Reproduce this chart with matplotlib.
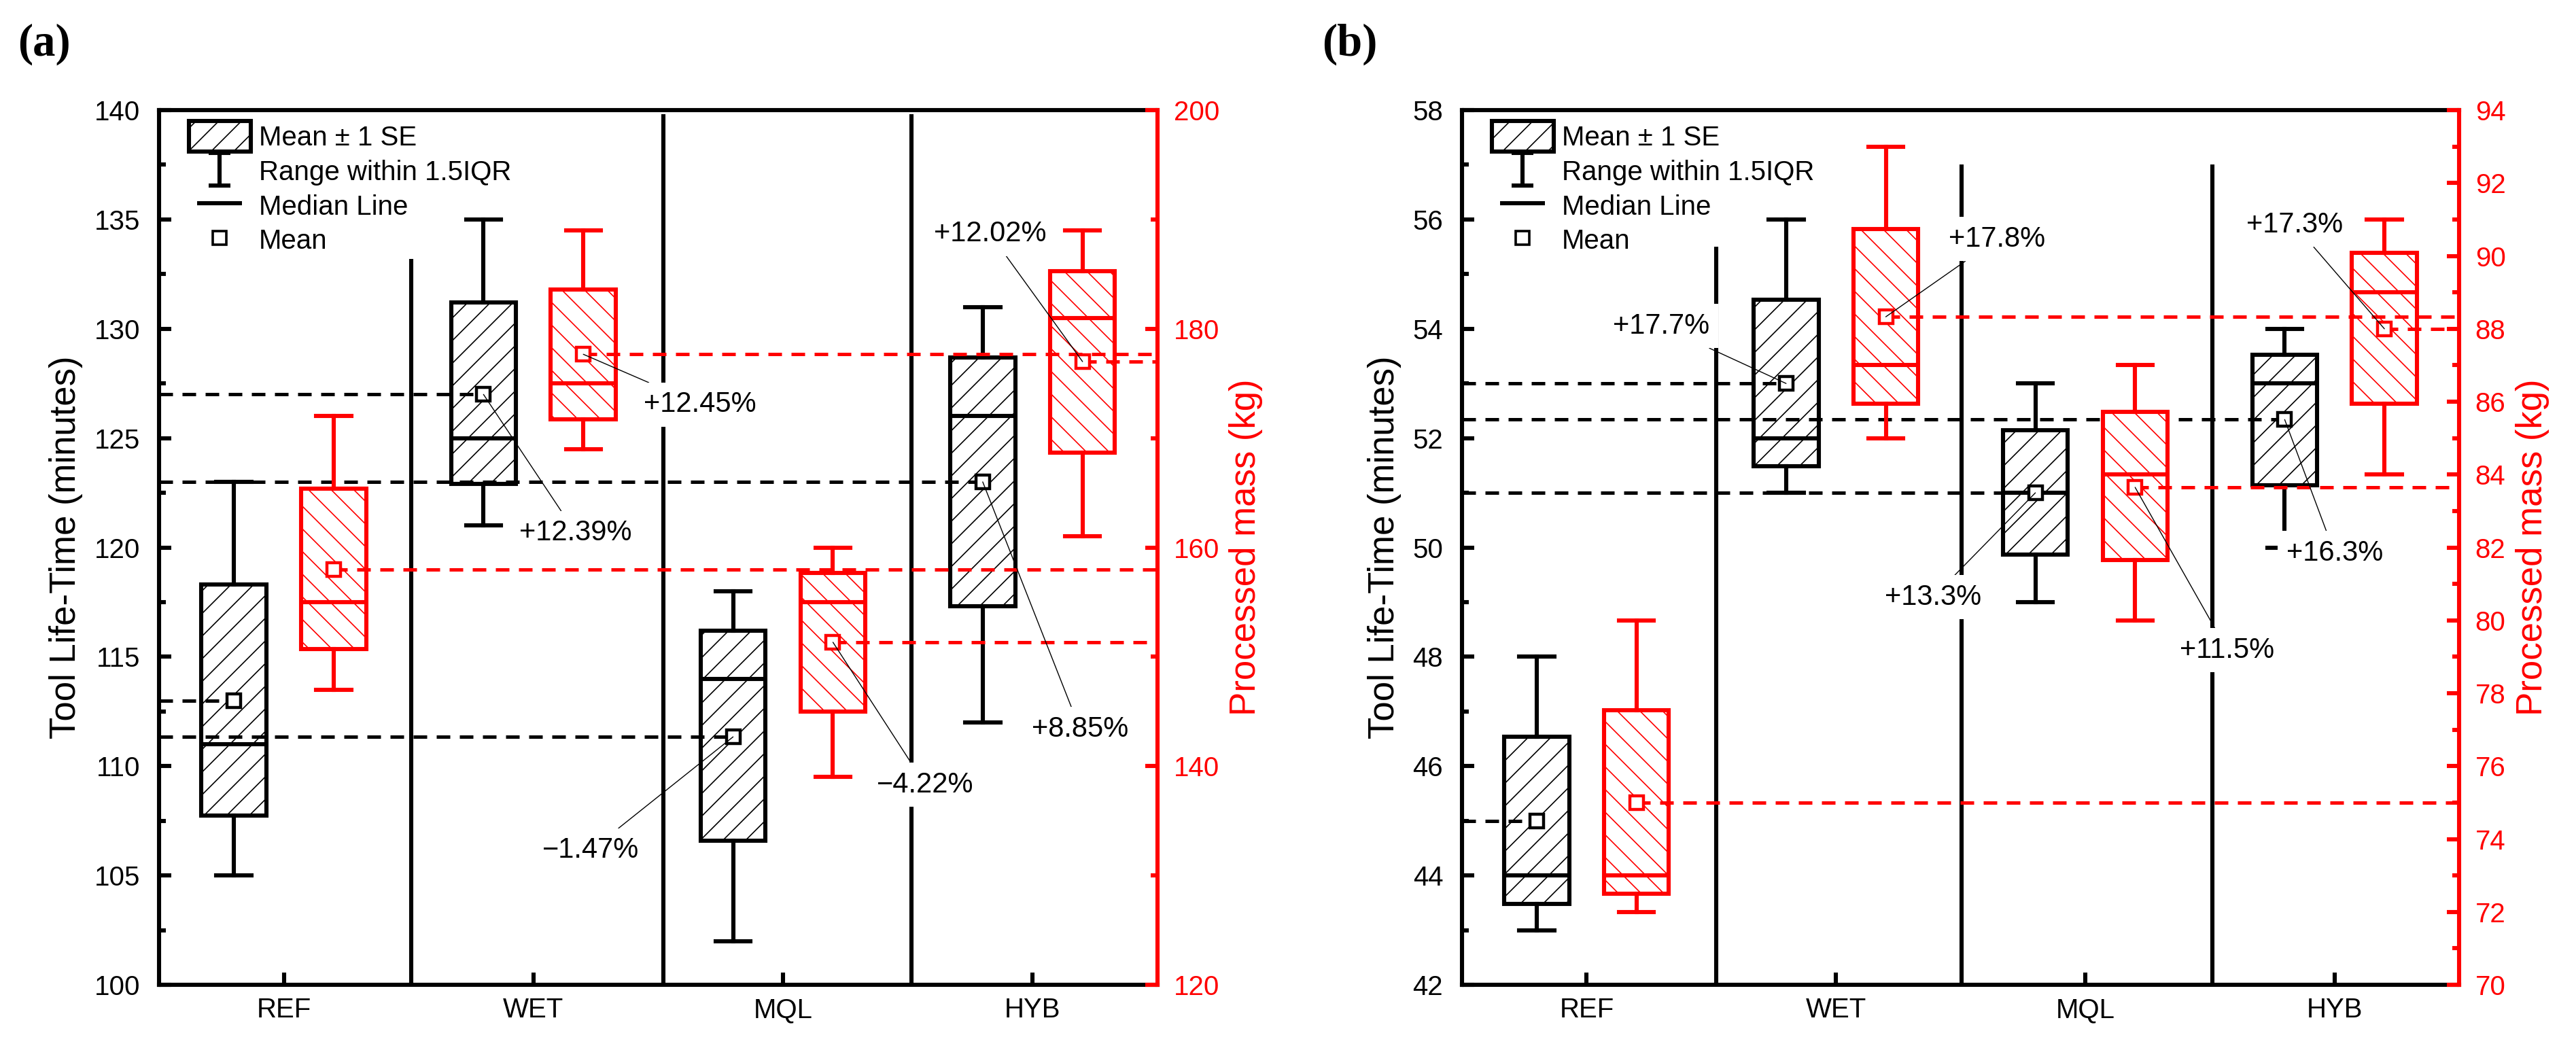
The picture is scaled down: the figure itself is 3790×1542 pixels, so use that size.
import matplotlib
matplotlib.use('Agg')
import matplotlib.pyplot as plt
from matplotlib.path import Path
from matplotlib.lines import Line2D
from matplotlib.patches import Patch, Rectangle
from matplotlib.legend_handler import HandlerPatch
from matplotlib.ticker import MultipleLocator

plt.rcParams['font.family'] = ['Liberation Sans', 'DejaVu Sans']
plt.rcParams['hatch.linewidth'] = 0.6
plt.rcParams['axes.unicode_minus'] = True

categories = ['REF', 'WET', 'MQL', 'HYB']

# ---------------- Panel (a) ----------------
# Tool life-time (minutes), left axis
a_life_whislo = [105.0, 121.0, 102.0, 112.0]
a_life_q1 = [107.75, 122.9, 106.6, 117.3]
a_life_med = [111.0, 125.0, 114.0, 126.0]
a_life_q3 = [118.3, 131.2, 116.2, 128.7]
a_life_whishi = [123.0, 135.0, 118.0, 131.0]
a_life_mean = [113.0, 127.0, 111.34, 123.0]
# Processed mass (kg), right axis
a_mass_whislo = [147.0, 169.0, 139.0, 161.0]
a_mass_q1 = [150.7, 171.7, 145.0, 168.7]
a_mass_med = [155.0, 175.0, 155.0, 181.0]
a_mass_q3 = [165.4, 183.6, 157.7, 185.3]
a_mass_whishi = [172.0, 189.0, 160.0, 189.0]
a_mass_mean = [158.0, 177.67, 151.33, 177.0]
a_life_pct = ['', '+12.39%', '\u22121.47%', '+8.85%']
a_mass_pct = ['', '+12.45%', '\u22124.22%', '+12.02%']

# ---------------- Panel (b) ----------------
b_life_whislo = [43.0, 51.0, 49.0, 50.0]
b_life_q1 = [43.48, 51.49, 49.87, 51.14]
b_life_med = [44.0, 52.0, 51.0, 53.0]
b_life_q3 = [46.54, 54.53, 52.15, 53.53]
b_life_whishi = [48.0, 56.0, 53.0, 54.0]
b_life_mean = [45.0, 53.0, 51.0, 52.34]
b_mass_whislo = [72.0, 85.0, 80.0, 84.0]
b_mass_q1 = [72.5, 85.94, 81.66, 85.94]
b_mass_med = [73.0, 87.0, 84.0, 89.0]
b_mass_q3 = [77.53, 90.73, 85.72, 90.09]
b_mass_whishi = [80.0, 93.0, 87.0, 91.0]
b_mass_mean = [75.0, 88.33, 83.65, 88.0]
b_life_pct = ['', '+17.7%', '+13.3%', '+16.3%']
b_mass_pct = ['', '+17.8%', '+11.5%', '+17.3%']

# ---------------- layout (not data) ----------------
LW = 2.2
RED = '#ff0000'
FS = 14.5
DASH = (4, 2.8)

panels = [
    dict(label='(a)', rect=[0.0617, 0.0603, 0.3875, 0.8346], labpos=(0.007, 0.958),
         life=(a_life_whislo, a_life_q1, a_life_med, a_life_q3, a_life_whishi, a_life_mean),
         mass=(a_mass_whislo, a_mass_q1, a_mass_med, a_mass_q3, a_mass_whishi, a_mass_mean),
         life_pct=a_life_pct, mass_pct=a_mass_pct,
         ylim=(100, 140), y2lim=(120, 200), ymaj=5, ymin=2.5, y2maj=20, y2min=10,
         seps=[1.51, 2.52, 3.515], septop=[133.2, 139.8, 139.8],
         life_txt=[None, (2.17, 120.66), (2.23, 106.15), (4.19, 111.69)],
         mass_txt=[None, (2.667, 126.53), (3.57, 109.15), (3.83, 134.34)]),
    dict(label='(b)', rect=[0.5674, 0.0603, 0.3870, 0.8346], labpos=(0.513, 0.958),
         life=(b_life_whislo, b_life_q1, b_life_med, b_life_q3, b_life_whishi, b_life_mean),
         mass=(b_mass_whislo, b_mass_q1, b_mass_med, b_mass_q3, b_mass_whishi, b_mass_mean),
         life_pct=b_life_pct, mass_pct=b_mass_pct,
         ylim=(42, 58), y2lim=(70, 94), ymaj=2, ymin=1, y2maj=2, y2min=1,
         seps=[1.52, 2.503, 3.51], septop=[55.5, 57.0, 57.0],
         life_txt=[None, (1.30, 54.05), (2.39, 49.09), (4.0, 49.9)],
         mass_txt=[None, (2.645, 55.64), (3.57, 48.12), (3.84, 55.9)]),
]

fig = plt.figure(figsize=(18.955, 7.71), dpi=200)

ibar = Path([(-0.34, -0.5), (0.34, -0.5), (0, -0.5), (0, 0.5), (-0.34, 0.5), (0.34, 0.5)],
            [Path.MOVETO, Path.LINETO, Path.MOVETO, Path.LINETO, Path.MOVETO, Path.LINETO])

xpos = [1, 2, 3, 4]
off = 0.2
bw = 0.26
capw = 0.14


def make_stats(vals):
    lo, q1, med, q3, hi, mean = vals
    return [dict(whislo=lo[i], q1=q1[i], med=med[i], q3=q3[i], whishi=hi[i], mean=mean[i], fliers=[])
            for i in range(len(lo))]


def tall_box(legend, orig_handle, xdescent, ydescent, width, height, fontsize):
    H = fontsize * 1.12
    cy = -ydescent + height / 2.0
    return Rectangle((-xdescent, cy - H / 2.0), width, H)


for P in panels:
    ax = fig.add_axes(P['rect'])
    ax2 = ax.twinx()
    ax.set_xlim(0.5, 4.5)
    ax.set_ylim(*P['ylim'])
    ax2.set_ylim(*P['y2lim'])

    pos_b = [x - off for x in xpos]
    pos_r = [x + off for x in xpos]

    # separators
    for sx, st in zip(P['seps'], P['septop']):
        ax.plot([sx, sx], [P['ylim'][0], st], color='black', lw=LW, zorder=1, solid_capstyle='butt')

    # black boxes (life)
    bb = ax.bxp(make_stats(P['life']), positions=pos_b, widths=bw, patch_artist=True,
                showfliers=False, manage_ticks=False, capwidths=capw,
                boxprops=dict(facecolor='white', edgecolor='black', linewidth=LW),
                medianprops=dict(color='black', linewidth=LW),
                whiskerprops=dict(color='black', linewidth=LW),
                capprops=dict(color='black', linewidth=LW), zorder=2)
    for b in bb['boxes']:
        b.set_hatch('//')
    # red boxes (mass)
    rb = ax2.bxp(make_stats(P['mass']), positions=pos_r, widths=bw, patch_artist=True,
                 showfliers=False, manage_ticks=False, capwidths=capw,
                 boxprops=dict(facecolor='white', edgecolor=RED, linewidth=LW),
                 medianprops=dict(color=RED, linewidth=LW),
                 whiskerprops=dict(color=RED, linewidth=LW),
                 capprops=dict(color=RED, linewidth=LW), zorder=2)
    for b in rb['boxes']:
        b.set_hatch('\\\\')

    life_mean = P['life'][5]
    mass_mean = P['mass'][5]
    # dashed reference lines
    for xb, m in zip(pos_b, life_mean):
        ax.plot([0.5, xb], [m, m], color='black', lw=1.8, dashes=DASH, zorder=3)
    for xr, m in zip(pos_r, mass_mean):
        ax2.plot([xr, 4.5], [m, m], color=RED, lw=1.8, dashes=DASH, zorder=3)
    # means
    ax.plot(pos_b, life_mean, 's', ms=7.5, mfc='white', mec='black', mew=1.6, ls='none', zorder=4)
    ax2.plot(pos_r, mass_mean, 's', ms=7.5, mfc='white', mec=RED, mew=1.6, ls='none', zorder=4)

    # annotations
    for i in range(1, 4):
        for txt, xy, trans, tp in [(P['life_pct'][i], (pos_b[i], life_mean[i]), ax.transData, P['life_txt'][i]),
                                   (P['mass_pct'][i], (pos_r[i], mass_mean[i]), ax2.transData, P['mass_txt'][i])]:
            ax2.annotate(txt, xy=xy, xycoords=trans, xytext=tp, textcoords=ax.transData,
                         ha='center', va='center', fontsize=15, zorder=10,
                         bbox=dict(boxstyle='square,pad=0.3', fc='white', ec='none'),
                         arrowprops=dict(arrowstyle='-', lw=0.5, color='black', shrinkA=0, shrinkB=0))

    # axes styling
    ax.set_xticks(xpos)
    ax.set_xticklabels(categories, fontsize=FS)
    ax.yaxis.set_major_locator(MultipleLocator(P['ymaj']))
    ax.yaxis.set_minor_locator(MultipleLocator(P['ymin']))
    ax2.yaxis.set_major_locator(MultipleLocator(P['y2maj']))
    ax2.yaxis.set_minor_locator(MultipleLocator(P['y2min']))
    ax.tick_params(axis='y', which='major', direction='in', length=6.5, width=LW, labelsize=FS, pad=10,
                   right=False)
    ax.tick_params(axis='y', which='minor', direction='in', length=3.5, width=LW, right=False)
    ax.tick_params(axis='x', which='major', direction='in', length=6.5, width=LW, labelsize=FS, pad=6.5,
                   top=False)
    ax.tick_params(axis='x', which='minor', bottom=False, top=False)
    ax2.tick_params(axis='y', which='major', direction='in', length=6.5, width=LW, labelsize=FS, pad=8.5,
                    colors=RED)
    ax2.tick_params(axis='y', which='minor', direction='in', length=3.5, width=LW, colors=RED)
    for s in ['left', 'top', 'bottom']:
        ax.spines[s].set_linewidth(LW)
        ax2.spines[s].set_visible(False)
    ax.spines['right'].set_visible(False)
    ax2.spines['right'].set_linewidth(LW)
    ax2.spines['right'].set_color(RED)

    ax.set_ylabel('Tool Life-Time (minutes)', fontsize=19, labelpad=6)
    ax2.set_ylabel('Processed mass (kg)', fontsize=19, color=RED, labelpad=5)

    handles = [Patch(facecolor='white', edgecolor='black', hatch='//', linewidth=LW),
               Line2D([], [], marker=ibar, ms=17, mew=LW, color='black', ls='none'),
               Line2D([], [], marker='_', ms=24, mew=LW, color='black', ls='none'),
               Line2D([], [], marker='s', ms=7, mfc='white', mec='black', mew=1.3, ls='none')]
    labels = ['Mean \u00b1 1 SE', 'Range within 1.5IQR', 'Median Line', 'Mean']
    leg = ax2.legend(handles, labels, loc='upper left', bbox_to_anchor=(0.03, 0.985), frameon=False,
                     fontsize=FS, handlelength=2.25, handleheight=1.1, labelspacing=0.24,
                     handletextpad=0.3, borderpad=0, borderaxespad=0,
                     handler_map={Patch: HandlerPatch(patch_func=tall_box)})
    leg.set_zorder(20)

    fig.text(P['labpos'][0], P['labpos'][1], P['label'], fontsize=24, fontweight='bold',
             family=['Liberation Serif', 'DejaVu Serif'], ha='left', va='center')

fig.savefig('out.png', dpi=200)
